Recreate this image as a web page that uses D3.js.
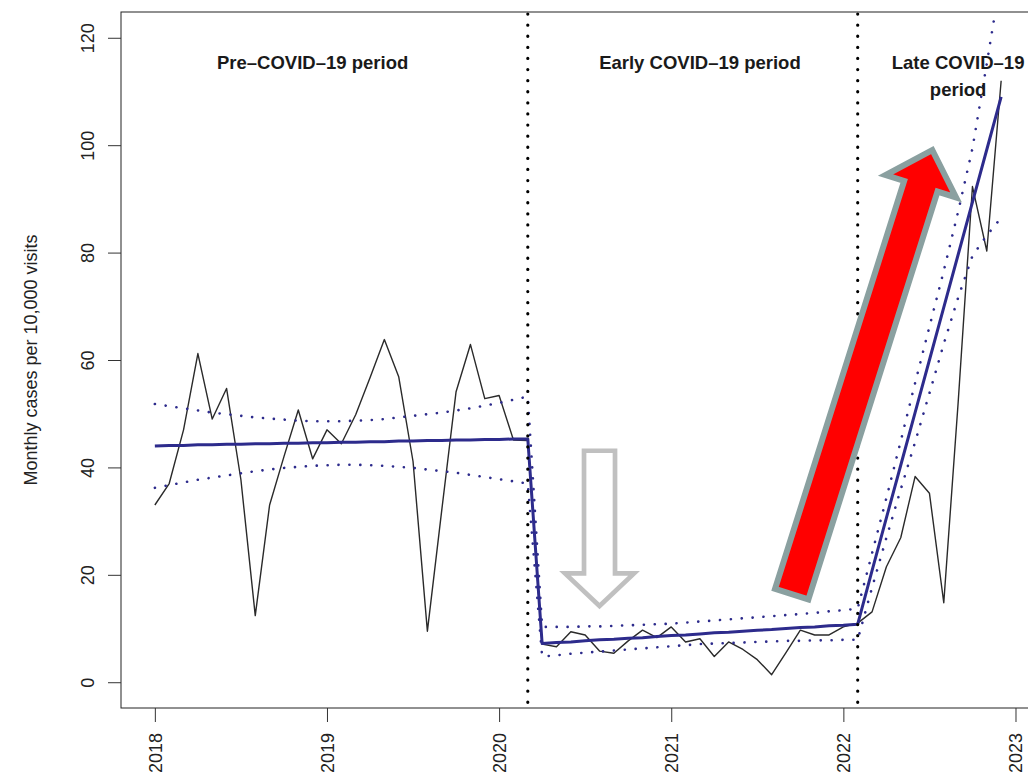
<!DOCTYPE html>
<meta charset="utf-8">
<body style="margin:0;background-color:white;">
<svg width="1028" height="777"></svg>
<script src="https://d3js.org/d3.v7.min.js"></script>
<script>

// monthly values Jan 2018 .. Dec 2022
var observed = [33, 37, 47, 61.2, 49, 54.7, 37.7, 12.4, 33, 42, 50.7, 41.6, 47, 44.4, 49.8, 56.7, 63.8, 56.9, 41.1, 9.5, 32, 54.1, 62.9, 52.8, 53.4, 45.1, 45,
  7.1, 6.6, 9.4, 8.8, 5.8, 5.4, 7.7, 9.7, 8.3, 10.3, 7.5, 8.1, 4.8, 7.5, 6.1, 4.2, 1.4, 5.5, 9.7, 8.8, 8.8, 10.3, 11,
  13.1, 21.5, 26.9, 38.3, 35.2, 14.8, 52, 92.3, 80.3, 112];
var fitted = [44.0, 44.1, 44.1, 44.2, 44.2, 44.3, 44.3, 44.4, 44.4, 44.5, 44.5, 44.6, 44.6, 44.7, 44.7, 44.8, 44.8, 44.9, 44.9, 45.0, 45.0, 45.1, 45.1, 45.2, 45.2, 45.3, 45.3,
  7.2, 7.4, 7.5, 7.7, 7.9, 8.0, 8.2, 8.3, 8.5, 8.7, 8.8, 9.0, 9.2, 9.3, 9.5, 9.7, 9.8, 10.0, 10.2, 10.3, 10.5, 10.6, 10.8,
  20.8, 30.6, 40.4, 50.2, 60.0, 69.8, 79.6, 89.4, 99.2, 109.0];
var ciUpper = [51.8, 51.4, 51.0, 50.6, 50.2, 49.9, 49.6, 49.3, 49.1, 48.9, 48.7, 48.6, 48.6, 48.6, 48.7, 48.8, 49.0, 49.3, 49.6, 49.9, 50.2, 50.6, 51.0, 51.5, 52.0, 52.6, 53.2,
  10.3, 10.3, 10.3, 10.4, 10.4, 10.5, 10.6, 10.7, 10.8, 10.9, 11.1, 11.3, 11.5, 11.7, 11.9, 12.1, 12.3, 12.5, 12.7, 12.9, 13.2, 13.4, 13.7,
  24.0, 34.3, 44.9, 55.7, 66.2, 76.6, 87.6, 99.4, 115.2, 131.5];
var ciLower = [36.2, 36.7, 37.2, 37.7, 38.1, 38.5, 38.9, 39.3, 39.6, 39.9, 40.1, 40.3, 40.4, 40.5, 40.5, 40.4, 40.3, 40.1, 39.9, 39.6, 39.3, 39.0, 38.6, 38.2, 37.8, 37.4, 37.0,
  4.8, 5.0, 5.3, 5.5, 5.7, 5.9, 6.1, 6.3, 6.5, 6.7, 6.9, 7.1, 7.2, 7.3, 7.4, 7.5, 7.6, 7.7, 7.7, 7.8, 7.8, 7.9, 7.9,
  17.6, 26.9, 35.9, 44.7, 53.8, 63.0, 71.6, 79.4, 83.2, 86.5];

var periodBreaks = [26, 49];          // month index of the interruptions
var yearLabels = ['2018', '2019', '2020', '2021', '2022', '2023'];
var yTicks = [0, 20, 40, 60, 80, 100, 120];
var periodNames = ['Pre\u2013COVID\u201319 period', 'Early COVID\u201319 period', 'Late COVID\u201319', 'period'];

// annotation arrows, anchored in data units (month index, value)
var downArrow = [31, 43.1, 14.2];            // month, top, tip
var upArrow = [[44.4, 16.4], [54.2, 99.1]];  // tail, tip

var font = "'Liberation Sans', Arial, Helvetica, sans-serif";
var blue = '#2d2b8c';

var svg = d3.select('svg');

var x = d3.scaleLinear().domain([-2.36, 61.36]).range([121, 1035]);
var y = d3.scaleLinear().domain([-4.8, 124.8]).range([708, 12]);

svg.append('clipPath').attr('id', 'plotclip')
   .append('rect')
   .attr('x', 121).attr('y', 12)
   .attr('width', 1035 - 121).attr('height', 708 - 12);

var plot = svg.append('g').attr('clip-path', 'url(#plotclip)');

var line = d3.line()
             .x(function(d, i) { return x(i); })
             .y(function(d) { return y(d); });

// observed series
plot.append('path')
    .attr('d', line(observed))
    .attr('fill', 'none')
    .attr('stroke', '#2a2a2a')
    .attr('stroke-width', 1.4)
    .attr('stroke-linejoin', 'round');

// segmented fit
plot.append('path')
    .attr('d', line(fitted))
    .attr('fill', 'none')
    .attr('stroke', blue)
    .attr('stroke-width', 3)
    .attr('stroke-linejoin', 'round');

// confidence band, dotted
[ciUpper, ciLower].forEach(function(ci) {
  plot.append('path')
      .attr('d', line(ci))
      .attr('fill', 'none')
      .attr('stroke', blue)
      .attr('stroke-width', 2.6)
      .attr('stroke-linecap', 'round')
      .attr('stroke-dasharray', '0.1 10.8');
});

// period breaks
periodBreaks.forEach(function(b) {
  plot.append('line')
      .attr('x1', x(b)).attr('x2', x(b))
      .attr('y1', 14).attr('y2', 708)
      .attr('stroke', 'black')
      .attr('stroke-width', 3.2)
      .attr('stroke-linecap', 'round')
      .attr('stroke-dasharray', '0.1 11');
});

// frame
svg.append('rect')
   .attr('x', 121).attr('y', 12)
   .attr('width', 1035 - 121).attr('height', 708 - 12)
   .attr('fill', 'none')
   .attr('stroke', '#222')
   .attr('stroke-width', 1);

// axes
var yAxis = svg.append('g')
               .attr('transform', 'translate(121,0)')
               .call(d3.axisLeft(y).tickValues(yTicks).tickSize(13));
var xAxis = svg.append('g')
               .attr('transform', 'translate(0,708)')
               .call(d3.axisBottom(x).tickValues([0, 12, 24, 36, 48, 60]).tickSize(14)
                       .tickFormat(function(d, i) { return yearLabels[i]; }));

[yAxis, xAxis].forEach(function(ax) {
  ax.select('.domain').remove();
  ax.selectAll('line').attr('stroke', '#333');
  ax.selectAll('text')
    .attr('font-family', font)
    .attr('font-size', 18)
    .attr('fill', '#222')
    .attr('dy', null);
});
yAxis.selectAll('text')
     .attr('x', 0)
     .attr('text-anchor', 'middle')
     .attr('transform', 'translate(-27,0) rotate(-90)');
xAxis.selectAll('text')
     .attr('y', 0)
     .attr('text-anchor', 'end')
     .attr('transform', 'translate(6.5,25) rotate(-90)');

svg.append('text')
   .attr('transform', 'translate(37,360) rotate(-90)')
   .attr('text-anchor', 'middle')
   .attr('font-family', font)
   .attr('font-size', 18)
   .attr('fill', '#222')
   .text('Monthly cases per 10,000 visits');

// period titles
var titles = svg.append('g')
                .attr('font-family', font)
                .attr('font-size', 18.5)
                .attr('font-weight', 'bold')
                .attr('fill', '#1a1a1a')
                .attr('text-anchor', 'middle');
titles.append('text').attr('x', x(11)).attr('y', 69).text(periodNames[0]);
titles.append('text').attr('x', x(38)).attr('y', 69).text(periodNames[1]);
titles.append('text').attr('x', x(56)).attr('y', 69).text(periodNames[2]);
titles.append('text').attr('x', x(56)).attr('y', 96).text(periodNames[3]);

// hollow grey arrow pointing down
var cx = x(downArrow[0]), yTop = y(downArrow[1]), yTip = y(downArrow[2]);
var w = 15.5, hw = 34.5, hl = 32.5;
svg.append('polygon')
   .attr('points', [[cx - w, yTop], [cx + w, yTop], [cx + w, yTip - hl], [cx + hw, yTip - hl],
                    [cx, yTip], [cx - hw, yTip - hl], [cx - w, yTip - hl]].join(' '))
   .attr('fill', 'white')
   .attr('stroke', '#c0c0c0')
   .attr('stroke-width', 4.7)
   .attr('stroke-linejoin', 'miter');

// red arrow pointing up
function arrowPoints(p0, p1, w, hw, hl) {
  var dx = p1[0] - p0[0], dy = p1[1] - p0[1];
  var len = Math.sqrt(dx * dx + dy * dy);
  var ux = dx / len, uy = dy / len, nx = -uy, ny = ux;
  var bx = p1[0] - ux * hl, by = p1[1] - uy * hl;
  return [[p0[0] + nx * w, p0[1] + ny * w], [bx + nx * w, by + ny * w], [bx + nx * hw, by + ny * hw],
          p1, [bx - nx * hw, by - ny * hw], [bx - nx * w, by - ny * w], [p0[0] - nx * w, p0[1] - ny * w]];
}
var tail = [x(upArrow[0][0]), y(upArrow[0][1])], tip = [x(upArrow[1][0]), y(upArrow[1][1])];
svg.append('polygon')
   .attr('points', arrowPoints(tail, tip, 17.5, 37, 38).join(' '))
   .attr('fill', '#ff0000')
   .attr('stroke', '#8aa0a0')
   .attr('stroke-width', 6)
   .attr('stroke-linejoin', 'miter');

</script>
</body>
